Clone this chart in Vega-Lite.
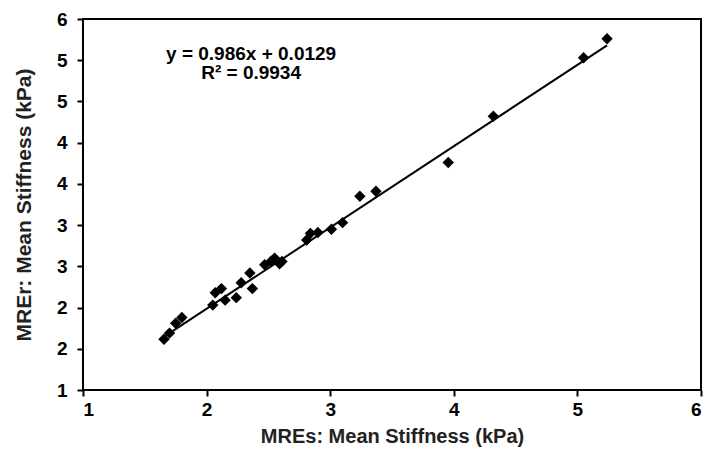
{
  "$schema": "https://vega.github.io/schema/vega-lite/v6.json",
  "width": 618,
  "height": 371,
  "autosize": {"type": "none"},
  "padding": {"left": 83, "top": 19, "right": 13, "bottom": 69},
  "background": "white",
  "config": {
    "view": {"stroke": "black", "strokeWidth": 2},
    "font": "Liberation Sans",
    "axis": {
      "grid": false,
      "domain": false,
      "tickColor": "black",
      "tickWidth": 2,
      "tickSize": 6,
      "labelFont": "Liberation Sans",
      "labelFontWeight": "bold",
      "labelFontSize": 19,
      "labelColor": "black",
      "titleFont": "Liberation Sans",
      "titleFontWeight": "bold",
      "titleFontSize": 20,
      "titleColor": "#222222"
    }
  },
  "datasets": {
    "pts": [
      {"mres": 1.655, "mrer": 1.615},
      {"mres": 1.70, "mrer": 1.69},
      {"mres": 1.75, "mrer": 1.81},
      {"mres": 1.80, "mrer": 1.88},
      {"mres": 2.05, "mrer": 2.03},
      {"mres": 2.07, "mrer": 2.18},
      {"mres": 2.12, "mrer": 2.23},
      {"mres": 2.15, "mrer": 2.09},
      {"mres": 2.24, "mrer": 2.12},
      {"mres": 2.28, "mrer": 2.30},
      {"mres": 2.35, "mrer": 2.42},
      {"mres": 2.37, "mrer": 2.23},
      {"mres": 2.47, "mrer": 2.52},
      {"mres": 2.52, "mrer": 2.56},
      {"mres": 2.55, "mrer": 2.60},
      {"mres": 2.59, "mrer": 2.53},
      {"mres": 2.61, "mrer": 2.56},
      {"mres": 2.81, "mrer": 2.82},
      {"mres": 2.84, "mrer": 2.90},
      {"mres": 2.90, "mrer": 2.91},
      {"mres": 3.01, "mrer": 2.95},
      {"mres": 3.10, "mrer": 3.03},
      {"mres": 3.24, "mrer": 3.35},
      {"mres": 3.37, "mrer": 3.41},
      {"mres": 3.955, "mrer": 3.76},
      {"mres": 4.32, "mrer": 4.32},
      {"mres": 5.05, "mrer": 5.03},
      {"mres": 5.24, "mrer": 5.26}
    ],
    "fit": [
      {"mres": 1.66, "mrer": 1.650},
      {"mres": 5.24, "mrer": 5.180}
    ],
    "eq": [
      {"mres": 2.36, "mrer": 5.08, "label": "y = 0.986x + 0.0129"},
      {"mres": 2.36, "mrer": 4.84, "label": "R² = 0.9934"}
    ]
  },
  "layer": [
    {
      "data": {"name": "fit"},
      "mark": {"type": "line", "color": "black", "strokeWidth": 2},
      "encoding": {
        "x": {"field": "mres", "type": "quantitative", "scale": {"domain": [1, 6], "nice": false, "zero": false},
              "axis": {"values": [1, 2, 3, 4, 5, 6], "format": "d", "title": "MREs: Mean Stiffness (kPa)", "labelPadding": 4, "titlePadding": 7}},
        "y": {"field": "mrer", "type": "quantitative", "scale": {"domain": [1, 5.5], "nice": false, "zero": false},
              "axis": {"values": [1, 1.5, 2, 2.5, 3, 3.5, 4, 4.5, 5, 5.5], "format": ".0f", "title": "MREr: Mean Stiffness (kPa)", "titleFontSize": 21, "labelPadding": 10, "titlePadding": 22}}
      }
    },
    {
      "data": {"name": "pts"},
      "mark": {"type": "point", "shape": "diamond", "filled": true, "color": "black", "opacity": 1, "size": 130},
      "encoding": {
        "x": {"field": "mres", "type": "quantitative"},
        "y": {"field": "mrer", "type": "quantitative"}
      }
    },
    {
      "data": {"name": "eq"},
      "mark": {"type": "text", "font": "Liberation Sans", "fontWeight": "bold", "fontSize": 19, "color": "black", "align": "center", "baseline": "middle"},
      "encoding": {
        "x": {"field": "mres", "type": "quantitative"},
        "y": {"field": "mrer", "type": "quantitative"},
        "text": {"field": "label"}
      }
    }
  ]
}
